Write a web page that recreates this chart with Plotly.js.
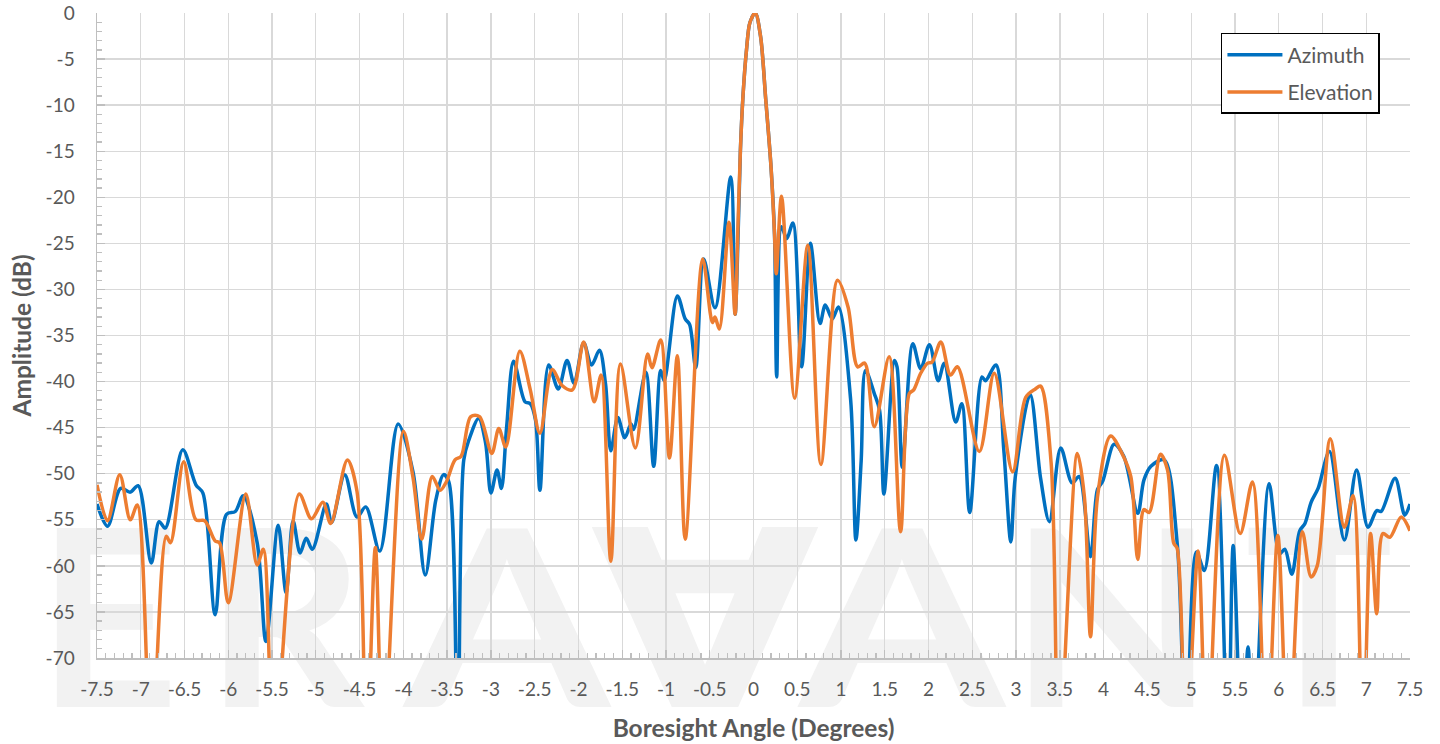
<!DOCTYPE html>
<html>
<head>
<meta charset="utf-8">
<script src="https://cdn.plot.ly/plotly-3.0.1.min.js"></script>
<style>
  html, body { margin: 0; padding: 0; background: #ffffff; }
  #wrap { position: relative; width: 1440px; height: 744px; overflow: hidden; }
  #wm { position: absolute; left: 0; top: 0; width: 1440px; height: 744px; z-index: 0; }
  #wm span { position: absolute; top: 488px; width: 300px; text-align: center;
             font-family: Lato, "DejaVu Sans", sans-serif; font-weight: bold; font-size: 247px;
             line-height: 247px; color: #F2F2F2; }
  #chart { position: absolute; left: 0; top: 0; width: 1440px; height: 744px; z-index: 1; }
</style>
</head>
<body>
<div id="wrap">
  <div id="wm">
    <span style="left:-42px;">E</span>
    <span style="left:135px;">R</span>
    <span style="left:357px;transform:scaleX(1.2);">A</span>
    <span style="left:555px;transform:scaleX(1.2);">&#8704;</span>
    <span style="left:752px;transform:scaleX(1.2);">A</span>
    <span style="left:962px;transform:scaleX(1.08);">N</span>
    <span style="left:1169px;">T</span>
  </div>
  <div id="chart"></div>
</div>
<script>
// ---- data ----
const azimuthAngle = [
  -7.5, -7.38, -7.23, -7.12, -7.03, -6.88, -6.79, -6.72, -6.52, -6.37, -6.29, -6.15, -6.02, -5.92, -5.83,
  -5.67, -5.57, -5.43, -5.34, -5.26, -5.18, -5.11, -5.04, -4.88, -4.82, -4.67, -4.53, -4.43, -4.27, -4.06,
  -3.89, -3.75, -3.63, -3.54, -3.48, -3.38, -3.31, -3.25, -3.14, -3.06, -3.00, -2.93, -2.88, -2.82, -2.74,
  -2.61, -2.55, -2.49, -2.44, -2.34, -2.23, -2.13, -2.05, -1.94, -1.85, -1.76, -1.69, -1.63, -1.55, -1.47,
  -1.40, -1.37, -1.23, -1.14, -1.06, -1.02, -0.87, -0.78, -0.73, -0.66, -0.57, -0.44, -0.26, -0.21,
  -0.17, -0.15, -0.12, -0.08, -0.04, 0.02, 0.08, 0.14, 0.20, 0.24, 0.265,
  0.32, 0.38, 0.45, 0.55, 0.65, 0.76, 0.82, 0.90, 0.97, 1.11, 1.17, 1.23, 1.28, 1.38, 1.44, 1.49,
  1.61, 1.64, 1.70, 1.82, 1.91, 2.01, 2.11, 2.18, 2.31, 2.38, 2.47, 2.61, 2.65, 2.77, 2.86, 2.94, 2.99,
  3.16, 3.28, 3.38, 3.51, 3.64, 3.72, 3.85, 3.93, 3.99, 4.12, 4.23, 4.39, 4.46, 4.54, 4.69, 4.84, 4.94,
  5.06, 5.15, 5.29, 5.42, 5.48, 5.58, 5.65, 5.71, 5.89, 6.01, 6.07, 6.15, 6.24, 6.30, 6.37, 6.45, 6.58,
  6.75, 6.89, 7.02, 7.12, 7.17, 7.33, 7.44, 7.5
];
const azimuthDb = [
  -53.3, -55.7, -51.6, -52.0, -51.3, -59.7, -55.2, -55.9, -47.4, -51.2, -52.1, -65.3, -54.4, -54.1, -52.4,
  -57.5, -68.2, -55.6, -62.9, -55.1, -58.6, -57.0, -58.2, -53.3, -55.3, -50.1, -54.7, -53.6, -58.4, -44.6,
  -49.8, -61.0, -52.9, -50.1, -50.9, -80, -48.5, -46.3, -44.0, -46.7, -52.1, -49.6, -51.6, -44.9, -37.8,
  -42.2, -42.4, -44.2, -51.8, -38.2, -40.8, -37.7, -40.2, -35.8, -38.2, -36.6, -40.3, -47.5, -43.9, -46.1,
  -44.6, -45.2, -39.0, -49.2, -38.8, -39.9, -30.7, -33.2, -33.8, -38.5, -26.7, -32.0, -17.8, -32.7,
  -22.0, -15.0, -9.0, -4.0, -1.0, 0.0, -2.5, -9.4, -16.7, -24.0, -39.5,
  -23.2, -24.5, -22.8, -38.4, -25.0, -33.7, -31.7, -33.2, -31.9, -42.0, -57.2, -48.6, -38.8, -41.3, -43.1, -52.2,
  -37.7, -38.4, -49.3, -35.9, -38.6, -36.0, -39.9, -38.0, -44.4, -42.4, -54.2, -39.5, -39.9, -38.2, -47.5, -57.4, -50.4,
  -41.4, -50.5, -55.2, -47.2, -51.0, -50.3, -59.0, -51.7, -50.8, -46.8, -48.1, -54.3, -50.7, -49.2, -48.5, -57.5, -80,
  -58.5, -60.5, -49.1, -80, -57.8, -80, -68.8, -80, -51.1, -58.7, -58.2, -60.9, -56.2, -55.4, -53.1, -51.6, -47.6,
  -57.2, -49.6, -55.8, -54.0, -54.1, -50.5, -54.5, -53.3
];

const elevationAngle = [
  -7.5, -7.38, -7.24, -7.12, -7.04, -6.88, -6.71, -6.66, -6.51, -6.37, -6.27, -6.15, -6.10, -6.00, -5.80,
  -5.67, -5.60, -5.48, -5.19, -5.05, -4.92, -4.83, -4.64, -4.53, -4.42, -4.32, -4.23, -4.00, -3.89, -3.79,
  -3.67, -3.58, -3.51, -3.41, -3.34, -3.23, -3.13, -2.99, -2.91, -2.83, -2.67, -2.55, -2.44, -2.30, -2.19,
  -2.07, -1.94, -1.82, -1.74, -1.63, -1.52, -1.35, -1.21, -1.16, -1.06, -0.96, -0.87, -0.78, -0.58, -0.47,
  -0.44, -0.39, -0.28, -0.21, -0.18, -0.15, -0.12, -0.08, -0.04, 0.02, 0.08, 0.14, 0.20, 0.24, 0.26,
  0.32, 0.47, 0.62, 0.77, 0.96, 1.08, 1.19, 1.27, 1.38, 1.55, 1.68, 1.78, 1.83, 1.91, 1.99, 2.04, 2.14,
  2.25, 2.33, 2.58, 2.75, 2.96, 3.11, 3.22, 3.28, 3.40, 3.49, 3.70, 3.78, 3.85, 3.93, 4.08, 4.21, 4.31,
  4.39, 4.46, 4.52, 4.65, 4.73, 4.80, 4.84, 4.94, 5.08, 5.18, 5.38, 5.56, 5.70, 5.86, 5.99, 6.11, 6.27,
  6.37, 6.44, 6.59, 6.75, 6.85, 6.96, 7.05, 7.12, 7.19, 7.27, 7.40, 7.50
];
const elevationDb = [
  -51.2, -55.1, -50.1, -55.0, -53.4, -80, -56.8, -57.5, -48.7, -55.0, -55.1, -57.3, -57.5, -64.0, -52.2,
  -59.9, -58.2, -80, -52.2, -54.9, -53.1, -55.4, -48.5, -51.9, -80, -58.0, -80, -45.4, -50.4, -57.1,
  -50.3, -51.8, -50.9, -48.5, -48.1, -43.8, -43.8, -47.8, -45.1, -47.1, -36.7, -40.9, -45.6, -38.7, -40.4,
  -40.9, -35.7, -42.2, -39.3, -59.5, -38.1, -47.2, -37.0, -38.5, -35.5, -48.3, -37.2, -57.1, -26.7, -33.6,
  -33.0, -34.3, -22.7, -32.7, -24.0, -15.0, -9.0, -4.0, -1.0, 0.0, -2.5, -9.4, -16.7, -24.0, -28.3,
  -19.9, -41.8, -25.2, -49.0, -29.0, -31.9, -38.4, -38.0, -44.9, -37.3, -56.3, -41.3, -40.9, -39.1, -38.0, -37.9, -35.7,
  -39.3, -38.4, -47.6, -39.1, -49.8, -41.7, -40.8, -40.5, -48.8, -80, -47.8, -52.5, -67.7, -52.5, -45.9, -47.8, -50.3,
  -59.3, -53.9, -54.2, -47.9, -49.6, -57.5, -58.1, -80, -58.4, -80, -48.0, -56.5, -50.9, -80, -56.7, -80, -56.3,
  -61.2, -60.0, -46.2, -55.8, -52.4, -80, -56.5, -65.2, -56.5, -56.9, -54.7, -56.2
];

const xTickVals = [-7.5, -7, -6.5, -6, -5.5, -5, -4.5, -4, -3.5, -3, -2.5, -2, -1.5, -1, -0.5, 0,
                   0.5, 1, 1.5, 2, 2.5, 3, 3.5, 4, 4.5, 5, 5.5, 6, 6.5, 7, 7.5];
const xTickText = ['-7.5', '-7', '-6.5', '-6', '-5.5', '-5', '-4.5', '-4', '-3.5', '-3', '-2.5', '-2', '-1.5', '-1', '-0.5', '0',
                   '0.5', '1', '1.5', '2', '2.5', '3', '3.5', '4', '4.5', '5', '5.5', '6', '6.5', '7', '7.5'];
const yTickVals = [0, -5, -10, -15, -20, -25, -30, -35, -40, -45, -50, -55, -60, -65, -70];
const yTickText = ['0', '-5', '-10', '-15', '-20', '-25', '-30', '-35', '-40', '-45', '-50', '-55', '-60', '-65', '-70'];

// ---- chart ----
const FONT = 'Lato, "Liberation Sans", sans-serif';
const TXT = '#595959';

const traces = [
  { x: azimuthAngle, y: azimuthDb, name: 'Azimuth', type: 'scatter', mode: 'lines', legendgroup: 'az',
    line: { color: '#0070C0', width: 3.5, shape: 'spline', smoothing: 0.9 } },
  { x: elevationAngle, y: elevationDb, name: 'Elevation', type: 'scatter', mode: 'lines', legendgroup: 'el',
    line: { color: '#ED7D31', width: 3.5, shape: 'spline', smoothing: 0.9 } }
];

const axisCommon = {
  showgrid: true, gridcolor: '#D9D9D9', gridwidth: 1.3,
  showline: true, linecolor: '#BFBFBF', linewidth: 1.5,
  zeroline: false, ticks: 'inside', tickcolor: '#BFBFBF', ticklen: 8, tickwidth: 1.3,
  tickfont: { family: FONT, size: 19, color: TXT },
  tickmode: 'array', fixedrange: true
};

const layout = {
  width: 1440, height: 744,
  margin: { l: 97, r: 30, t: 13, b: 86, pad: 0 },
  paper_bgcolor: 'rgba(0,0,0,0)', plot_bgcolor: 'rgba(0,0,0,0)',
  showlegend: true,
  legend: { x: 0.856, y: 0.969, xanchor: 'left', yanchor: 'top',
            bordercolor: '#000000', borderwidth: 1.5, bgcolor: '#ffffff',
            font: { family: FONT, size: 21, color: TXT }, itemwidth: 55, tracegroupgap: 7 },
  xaxis: Object.assign({}, axisCommon, {
    range: [-7.5, 7.5], tickvals: xTickVals, ticktext: xTickText, ticklabelstandoff: 14,
    minor: { tickmode: 'linear', tick0: -7.5, dtick: 0.1, ticks: 'inside', ticklen: 5, tickcolor: '#BFBFBF', tickwidth: 1.3, showgrid: false },
    title: { text: 'Boresight Angle (Degrees)', font: { family: FONT, size: 24.5, color: TXT, weight: 'bold' }, standoff: 20 }
  }),
  yaxis: Object.assign({}, axisCommon, {
    range: [-70, 0], tickvals: yTickVals, ticktext: yTickText, ticklabelstandoff: 17,
    minor: { tickmode: 'linear', tick0: 0, dtick: 1, ticks: 'inside', ticklen: 5, tickcolor: '#BFBFBF', tickwidth: 1.3, showgrid: false },
    title: { text: 'Amplitude (dB)', font: { family: FONT, size: 24.5, color: TXT, weight: 'bold' }, standoff: 7 }
  })
};

Plotly.newPlot('chart', traces, layout, { displayModeBar: false, staticPlot: true });
</script>
</body>
</html>
